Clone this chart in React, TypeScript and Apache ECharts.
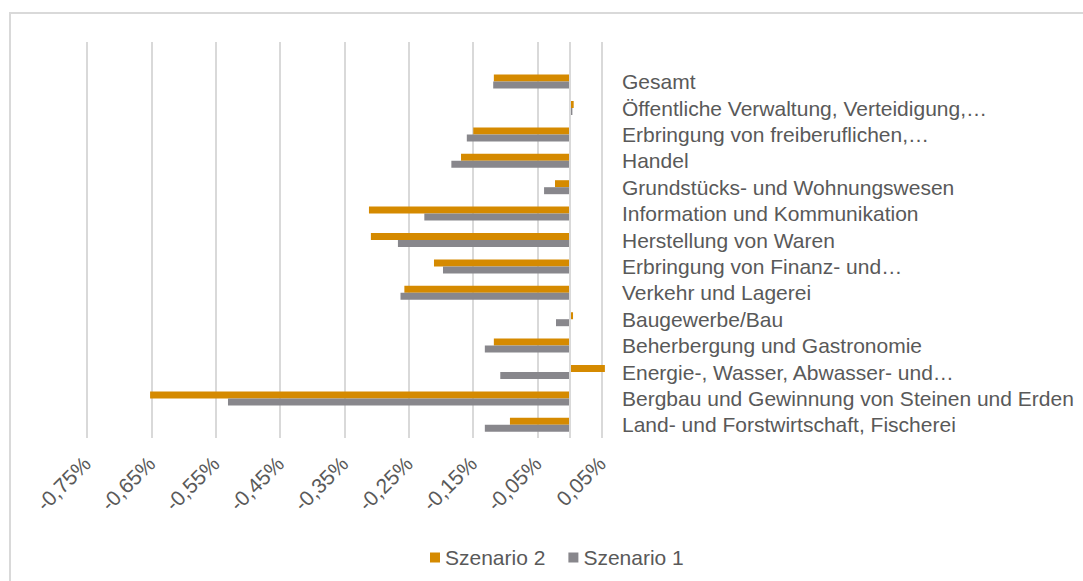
import React, { useEffect, useRef } from "react";
import * as echarts from "echarts";

const categories: string[] = [
  "Land- und Forstwirtschaft, Fischerei",
  "Bergbau und Gewinnung von Steinen und Erden",
  "Energie-, Wasser, Abwasser- und…",
  "Beherbergung und Gastronomie",
  "Baugewerbe/Bau",
  "Verkehr und Lagerei",
  "Erbringung von Finanz- und…",
  "Herstellung von Waren",
  "Information und Kommunikation",
  "Grundstücks- und Wohnungswesen",
  "Handel",
  "Erbringung von freiberuflichen,…",
  "Öffentliche Verwaltung, Verteidigung,…",
  "Gesamt",
  "",
];

const szenario2: (number | null)[] = [
  -0.093, -0.652, 0.0545, -0.118, 0.005, -0.257, -0.211, -0.309, -0.312, -0.023,
  -0.169, -0.15, 0.006, -0.118, null,
];

const szenario1: (number | null)[] = [
  -0.132, -0.531, -0.108, -0.132, -0.0215, -0.263, -0.197, -0.267, -0.226, -0.04,
  -0.184, -0.16, 0.004, -0.119, null,
];

const xTicks: number[] = [-0.75, -0.65, -0.55, -0.45, -0.35, -0.25, -0.15, -0.05, 0.05];

const ORANGE = "#D58A00";
const GRAY = "#88878C";
const TEXT = "#595959";
const GRID = "#D9D9D9";
const FONT = "Liberation Sans, Arial, sans-serif";

export default function App() {
  const ref = useRef<HTMLDivElement>(null);
  useEffect(() => {
    if (!ref.current) return;
    const chart = echarts.init(ref.current, undefined, { renderer: "svg" });
    chart.setOption({
      animation: false,
      backgroundColor: "#ffffff",
      textStyle: { fontFamily: FONT },
      graphic: [
        {
          type: "rect",
          shape: { x: 10, y: 13, width: 1100, height: 600 },
          style: { fill: "none", stroke: GRID, lineWidth: 2 },
          silent: true,
        },
      ],
      grid: { left: 87, right: 481, top: 42, bottom: 143, containLabel: false },
      legend: {
        data: ["Szenario 2", "Szenario 1"],
        left: 425,
        top: 542,
        icon: "rect",
        itemWidth: 10,
        itemHeight: 10,
        itemGap: 23,
        textStyle: { color: TEXT, fontSize: 21, fontFamily: FONT },
      },
      xAxis: {
        type: "value",
        min: -0.75,
        max: 0.05,
        axisLine: { show: false },
        axisTick: { show: false, customValues: xTicks },
        splitLine: { show: true, lineStyle: { color: GRID, width: 2 } },
        axisLabel: {
          customValues: xTicks,
          rotate: 45,
          margin: 22,
          color: TEXT,
          fontSize: 21,
          fontFamily: FONT,
          formatter: (v: number) => v.toFixed(2).replace(".", ",") + "%",
        },
      },
      yAxis: {
        type: "category",
        data: categories,
        position: "right",
        axisLine: { show: false },
        axisTick: { show: false },
        splitLine: { show: false },
        axisLabel: {
          interval: 0,
          align: "left",
          margin: 20,
          color: TEXT,
          fontSize: 21,
          fontFamily: FONT,
        },
      },
      series: [
        {
          name: "Szenario 2",
          type: "bar",
          data: szenario2,
          barWidth: 7,
          barGap: "0%",
          clip: false,
          itemStyle: { color: ORANGE },
          markLine: {
            silent: true,
            symbol: ["none", "none"],
            label: { show: false },
            lineStyle: { color: GRID, width: 2, type: "solid" },
            data: [{ xAxis: 0 }],
          },
        },
        {
          name: "Szenario 1",
          type: "bar",
          data: szenario1,
          barWidth: 7,
          barGap: "0%",
          clip: false,
          itemStyle: { color: GRAY },
        },
      ],
    });
    return () => chart.dispose();
  }, []);
  return (
    <div
      ref={ref}
      style={{ position: "fixed", left: 0, top: 0, width: 1083, height: 581 }}
    />
  );
}
